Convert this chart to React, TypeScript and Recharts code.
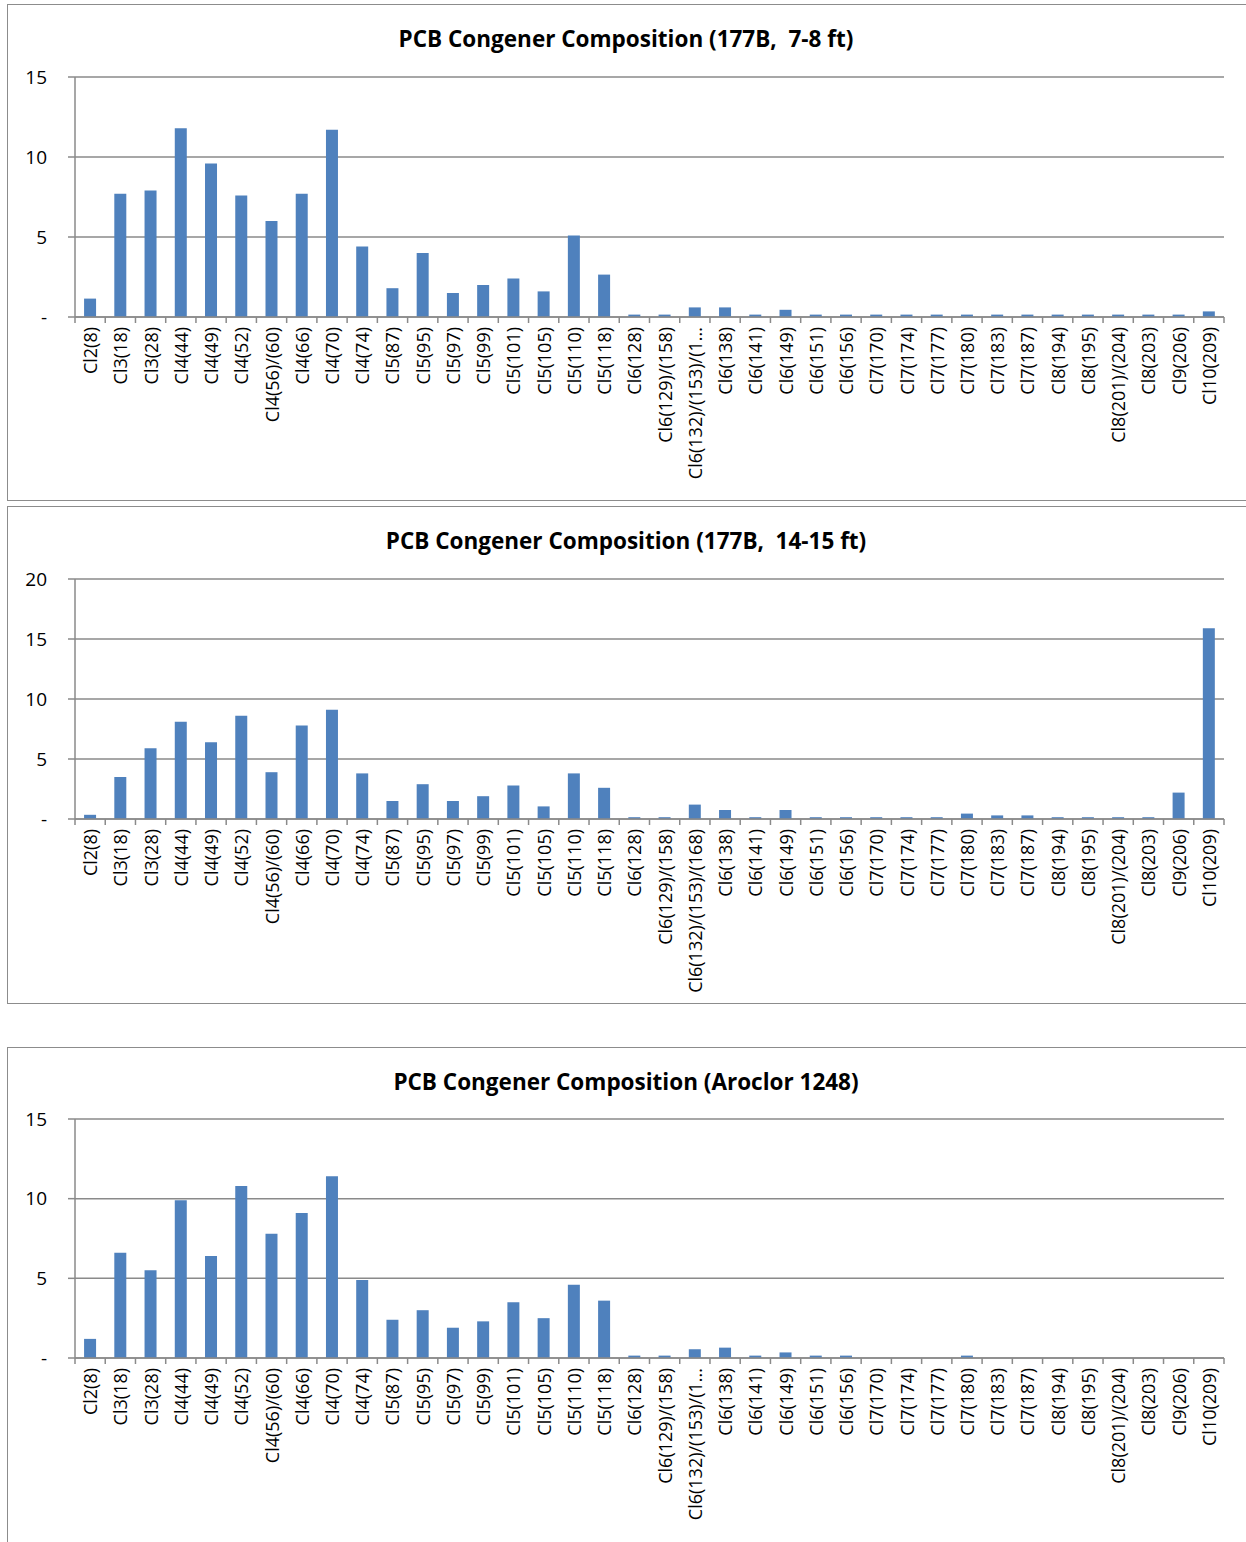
import React from 'react';
import { BarChart, Bar, XAxis, YAxis, CartesianGrid } from 'recharts';

const FONT = '"Open Sans", "Noto Sans", sans-serif';
const GRID = '#8a8a8a';
const BAR = '#4F81BD';

const categories = [
  'Cl2(8)', 'Cl3(18)', 'Cl3(28)', 'Cl4(44)', 'Cl4(49)', 'Cl4(52)', 'Cl4(56)/(60)', 'Cl4(66)',
  'Cl4(70)', 'Cl4(74)', 'Cl5(87)', 'Cl5(95)', 'Cl5(97)', 'Cl5(99)', 'Cl5(101)', 'Cl5(105)',
  'Cl5(110)', 'Cl5(118)', 'Cl6(128)', 'Cl6(129)/(158)', 'Cl6(132)/(153)/(168)', 'Cl6(138)',
  'Cl6(141)', 'Cl6(149)', 'Cl6(151)', 'Cl6(156)', 'Cl7(170)', 'Cl7(174)', 'Cl7(177)', 'Cl7(180)',
  'Cl7(183)', 'Cl7(187)', 'Cl8(194)', 'Cl8(195)', 'Cl8(201)/(204)', 'Cl8(203)', 'Cl9(206)', 'Cl10(209)',
];

const depth7to8ft = [
  1.15, 7.7, 7.9, 11.8, 9.6, 7.6, 6.0, 7.7, 11.7, 4.4, 1.8, 4.0, 1.5, 2.0, 2.4, 1.6, 5.1, 2.65,
  0.15, 0.15, 0.6, 0.6, 0.15, 0.45, 0.15, 0.15, 0.15, 0.15, 0.15, 0.15, 0.15, 0.15, 0.15, 0.15,
  0.15, 0.15, 0.15, 0.35,
];

const depth14to15ft = [
  0.35, 3.5, 5.9, 8.1, 6.4, 8.6, 3.9, 7.8, 9.1, 3.8, 1.5, 2.9, 1.5, 1.9, 2.8, 1.05, 3.8, 2.6,
  0.15, 0.15, 1.2, 0.75, 0.15, 0.75, 0.15, 0.15, 0.15, 0.15, 0.15, 0.45, 0.3, 0.3, 0.15, 0.15,
  0.15, 0.15, 2.2, 15.9,
];

const aroclor1248 = [
  1.2, 6.6, 5.5, 9.9, 6.4, 10.8, 7.8, 9.1, 11.4, 4.9, 2.4, 3.0, 1.9, 2.3, 3.5, 2.5, 4.6, 3.6,
  0.15, 0.15, 0.55, 0.65, 0.15, 0.35, 0.15, 0.15, 0, 0, 0, 0.15, 0, 0, 0, 0,
  0, 0, 0, 0,
];

const ticks15 = [0, 5, 10, 15];
const ticks20 = [0, 5, 10, 15, 20];

const title1 = 'PCB Congener Composition (177B,  7-8 ft)';
const title2 = 'PCB Congener Composition (177B,  14-15 ft)';
const title3 = 'PCB Congener Composition (Aroclor 1248)';

const data = categories.map((name, i) => ({
  name,
  d78: depth7to8ft[i],
  d1415: depth14to15ft[i],
  aro: aroclor1248[i],
}));

const CHART_W = 1242;
const PLOT_LEFT = 68;
const PLOT_RIGHT_MARGIN = 25;
const TICK_MARGIN = 10;

function CategoryTick(props: any) {
  const { x, y, payload, index, maxLen } = props;
  const fallbackHalf = (CHART_W - PLOT_LEFT - PLOT_RIGHT_MARGIN) / categories.length / 2;
  const half = payload && typeof payload.offset === 'number' && payload.offset > 0 ? payload.offset : fallbackHalf;
  const axisY = y - TICK_MARGIN;
  let label = String(payload.value);
  if (maxLen && label.length > maxLen) label = label.slice(0, maxLen) + '...';
  return (
    <g>
      <line x1={x - half} x2={x - half} y1={axisY} y2={axisY + 6} stroke={GRID} strokeWidth={1.5} />
      {index === categories.length - 1 && (
        <line x1={x + half} x2={x + half} y1={axisY} y2={axisY + 6} stroke={GRID} strokeWidth={1.5} />
      )}
      <text
        transform={`translate(${x},${y}) rotate(-90)`}
        textAnchor="end"
        dominantBaseline="central"
        fontFamily={FONT}
        fontSize={18}
        fill="#000"
      >
        {label}
      </text>
    </g>
  );
}

type PanelProps = {
  top: number;
  height: number;
  plotTop: number;
  plotBottom: number;
  title: string;
  dataKey: string;
  yMax: number;
  ticks: number[];
  maxLen?: number;
};

function Panel({ top, height, plotTop, plotBottom, title, dataKey, yMax, ticks, maxLen }: PanelProps) {
  return (
    <>
      <div
        style={{
          position: 'absolute',
          left: 7,
          top,
          width: CHART_W,
          height,
          border: '1.5px solid #8c8c8c',
          boxSizing: 'border-box',
          background: '#fff',
        }}
      />
      <div style={{ position: 'absolute', left: 7, top }}>
        <BarChart
          width={CHART_W}
          height={height}
          data={data}
          margin={{ top: plotTop, right: PLOT_RIGHT_MARGIN, left: PLOT_LEFT - 60, bottom: 0 }}
          barCategoryGap="30%"
        >
          <CartesianGrid vertical={false} stroke={GRID} strokeWidth={1.5} />
          <XAxis
            dataKey="name"
            interval={0}
            height={height - plotBottom}
            tickSize={0}
            tickMargin={TICK_MARGIN}
            tickLine={false}
            axisLine={{ stroke: GRID, strokeWidth: 1.5 }}
            tick={<CategoryTick maxLen={maxLen} />}
          />
          <YAxis
            width={60}
            domain={[0, yMax]}
            ticks={ticks}
            interval={0}
            tickSize={7}
            tickMargin={21}
            axisLine={{ stroke: GRID, strokeWidth: 1.5 }}
            tickLine={{ stroke: GRID, strokeWidth: 1.5 }}
            tick={{ fontSize: 19, fill: '#000', fontFamily: FONT }}
            tickFormatter={(v: number) => (v === 0 ? '-' : String(v))}
          />
          <Bar dataKey={dataKey} fill={BAR} isAnimationActive={false} />
        </BarChart>
      </div>
      <div
        style={{
          position: 'absolute',
          left: 7,
          top: top + 21,
          width: 1238,
          textAlign: 'center',
          fontFamily: FONT,
          fontWeight: 700,
          fontSize: 22.5,
          lineHeight: '28px',
          whiteSpace: 'pre',
          color: '#000',
        }}
      >
        {title}
      </div>
    </>
  );
}

export default function App() {
  return (
    <div
      style={{
        position: 'absolute',
        left: 0,
        top: 0,
        width: 1246,
        height: 1542,
        overflow: 'hidden',
        background: '#fff',
      }}
    >
      <Panel top={4} height={497} plotTop={73} plotBottom={313} title={title1} dataKey="d78" yMax={15} ticks={ticks15} maxLen={17} />
      <Panel top={506} height={498} plotTop={73} plotBottom={313} title={title2} dataKey="d1415" yMax={20} ticks={ticks20} />
      <Panel top={1047} height={497} plotTop={72} plotBottom={311} title={title3} dataKey="aro" yMax={15} ticks={ticks15} maxLen={17} />
    </div>
  );
}
